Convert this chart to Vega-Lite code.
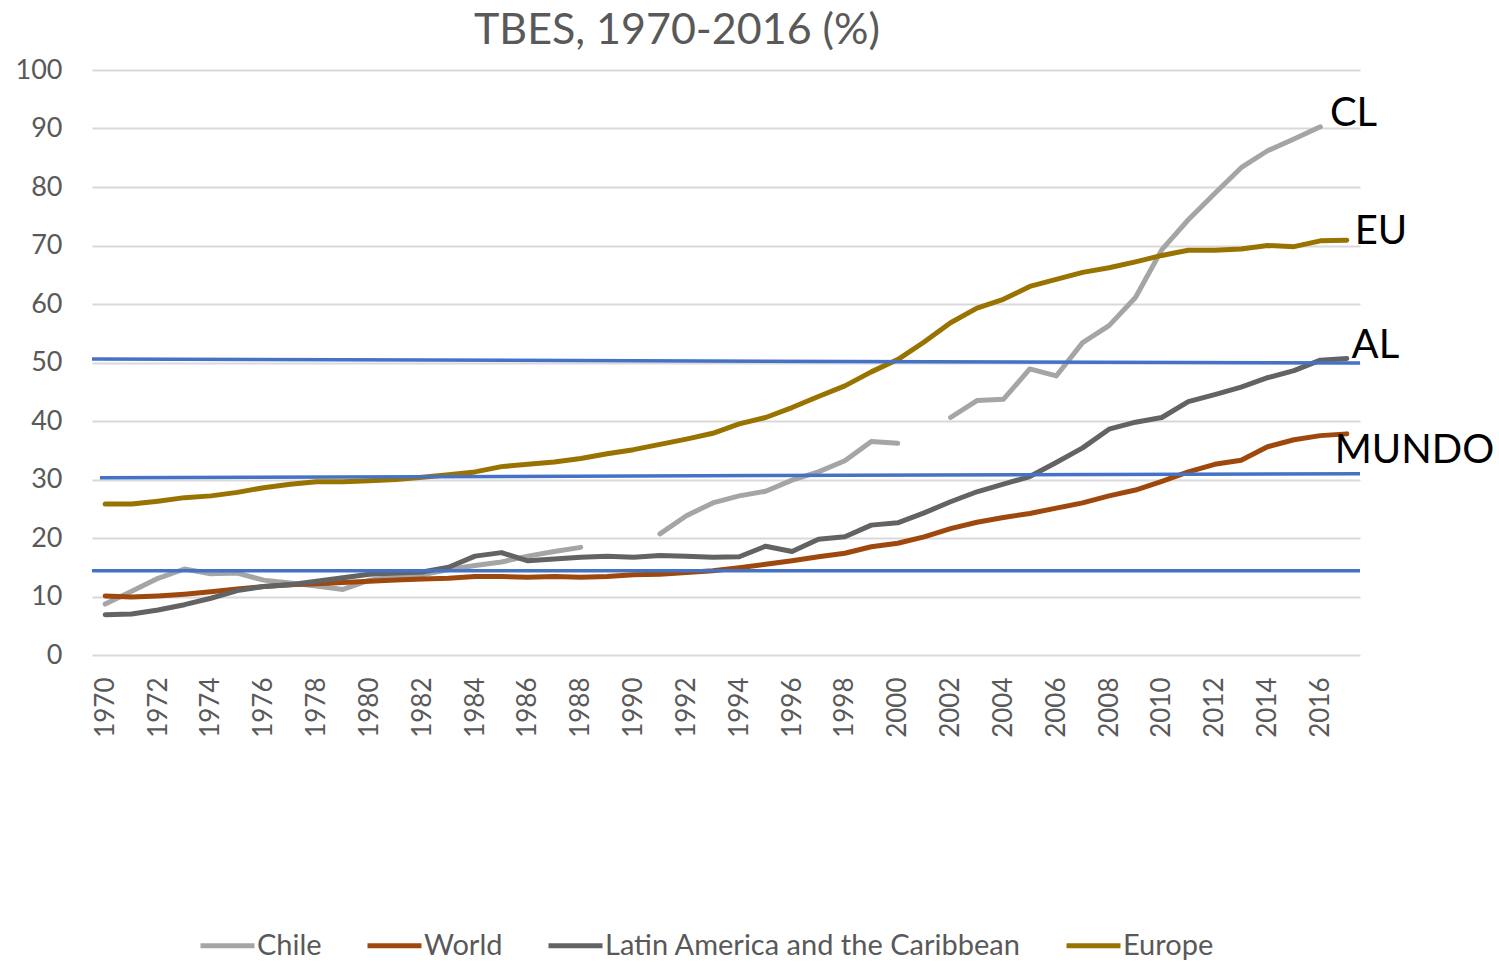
{
  "$schema": "https://vega.github.io/schema/vega-lite/v6.json",
  "width": 1268,
  "height": 585,
  "autosize": {"type": "none"},
  "padding": {"left": 92, "top": 70, "right": 139, "bottom": 310},
  "background": "white",
  "title": {
    "text": "TBES, 1970-2016 (%)",
    "font": "Lato",
    "fontSize": 43,
    "fontWeight": "normal",
    "color": "#595959",
    "anchor": "middle",
    "frame": "group",
    "dx": -49,
    "offset": 3
  },
  "datasets": {
    "series": [
      {"year":1970,"series":"Chile","value":8.7},{"year":1971,"series":"Chile","value":10.9},{"year":1972,"series":"Chile","value":13.1},{"year":1973,"series":"Chile","value":14.7},{"year":1974,"series":"Chile","value":13.9},{"year":1975,"series":"Chile","value":14.0},{"year":1976,"series":"Chile","value":12.8},{"year":1977,"series":"Chile","value":12.3},{"year":1978,"series":"Chile","value":11.8},{"year":1979,"series":"Chile","value":11.2},{"year":1980,"series":"Chile","value":12.8},{"year":1981,"series":"Chile","value":13.4},{"year":1982,"series":"Chile","value":13.7},{"year":1983,"series":"Chile","value":14.6},{"year":1984,"series":"Chile","value":15.3},{"year":1985,"series":"Chile","value":15.9},{"year":1986,"series":"Chile","value":16.9},{"year":1987,"series":"Chile","value":17.7},{"year":1988,"series":"Chile","value":18.4},{"year":1989,"series":"Chile","value":null},{"year":1990,"series":"Chile","value":null},{"year":1991,"series":"Chile","value":20.7},{"year":1992,"series":"Chile","value":23.8},{"year":1993,"series":"Chile","value":26.0},{"year":1994,"series":"Chile","value":27.2},{"year":1995,"series":"Chile","value":28.0},{"year":1996,"series":"Chile","value":29.9},{"year":1997,"series":"Chile","value":31.3},{"year":1998,"series":"Chile","value":33.2},{"year":1999,"series":"Chile","value":36.5},{"year":2000,"series":"Chile","value":36.2},{"year":2001,"series":"Chile","value":null},{"year":2002,"series":"Chile","value":40.6},{"year":2003,"series":"Chile","value":43.5},{"year":2004,"series":"Chile","value":43.7},{"year":2005,"series":"Chile","value":48.9},{"year":2006,"series":"Chile","value":47.7},{"year":2007,"series":"Chile","value":53.4},{"year":2008,"series":"Chile","value":56.3},{"year":2009,"series":"Chile","value":61.1},{"year":2010,"series":"Chile","value":69.3},{"year":2011,"series":"Chile","value":74.4},{"year":2012,"series":"Chile","value":78.9},{"year":2013,"series":"Chile","value":83.3},{"year":2014,"series":"Chile","value":86.2},{"year":2015,"series":"Chile","value":88.2},{"year":2016,"series":"Chile","value":90.3},
      {"year":1970,"series":"World","value":10.1},{"year":1971,"series":"World","value":9.9},{"year":1972,"series":"World","value":10.1},{"year":1973,"series":"World","value":10.4},{"year":1974,"series":"World","value":10.8},{"year":1975,"series":"World","value":11.3},{"year":1976,"series":"World","value":11.7},{"year":1977,"series":"World","value":12.0},{"year":1978,"series":"World","value":12.2},{"year":1979,"series":"World","value":12.4},{"year":1980,"series":"World","value":12.6},{"year":1981,"series":"World","value":12.8},{"year":1982,"series":"World","value":13.0},{"year":1983,"series":"World","value":13.1},{"year":1984,"series":"World","value":13.4},{"year":1985,"series":"World","value":13.4},{"year":1986,"series":"World","value":13.3},{"year":1987,"series":"World","value":13.4},{"year":1988,"series":"World","value":13.3},{"year":1989,"series":"World","value":13.4},{"year":1990,"series":"World","value":13.7},{"year":1991,"series":"World","value":13.8},{"year":1992,"series":"World","value":14.1},{"year":1993,"series":"World","value":14.4},{"year":1994,"series":"World","value":14.9},{"year":1995,"series":"World","value":15.5},{"year":1996,"series":"World","value":16.1},{"year":1997,"series":"World","value":16.8},{"year":1998,"series":"World","value":17.4},{"year":1999,"series":"World","value":18.5},{"year":2000,"series":"World","value":19.1},{"year":2001,"series":"World","value":20.2},{"year":2002,"series":"World","value":21.6},{"year":2003,"series":"World","value":22.7},{"year":2004,"series":"World","value":23.5},{"year":2005,"series":"World","value":24.2},{"year":2006,"series":"World","value":25.1},{"year":2007,"series":"World","value":26.0},{"year":2008,"series":"World","value":27.2},{"year":2009,"series":"World","value":28.2},{"year":2010,"series":"World","value":29.7},{"year":2011,"series":"World","value":31.3},{"year":2012,"series":"World","value":32.6},{"year":2013,"series":"World","value":33.3},{"year":2014,"series":"World","value":35.6},{"year":2015,"series":"World","value":36.8},{"year":2016,"series":"World","value":37.5},{"year":2017,"series":"World","value":37.8},
      {"year":1970,"series":"Latin America and the Caribbean","value":6.9},{"year":1971,"series":"Latin America and the Caribbean","value":7.0},{"year":1972,"series":"Latin America and the Caribbean","value":7.7},{"year":1973,"series":"Latin America and the Caribbean","value":8.6},{"year":1974,"series":"Latin America and the Caribbean","value":9.7},{"year":1975,"series":"Latin America and the Caribbean","value":11.0},{"year":1976,"series":"Latin America and the Caribbean","value":11.7},{"year":1977,"series":"Latin America and the Caribbean","value":12.0},{"year":1978,"series":"Latin America and the Caribbean","value":12.6},{"year":1979,"series":"Latin America and the Caribbean","value":13.2},{"year":1980,"series":"Latin America and the Caribbean","value":13.8},{"year":1981,"series":"Latin America and the Caribbean","value":14.0},{"year":1982,"series":"Latin America and the Caribbean","value":14.2},{"year":1983,"series":"Latin America and the Caribbean","value":15.0},{"year":1984,"series":"Latin America and the Caribbean","value":16.9},{"year":1985,"series":"Latin America and the Caribbean","value":17.5},{"year":1986,"series":"Latin America and the Caribbean","value":16.1},{"year":1987,"series":"Latin America and the Caribbean","value":16.4},{"year":1988,"series":"Latin America and the Caribbean","value":16.7},{"year":1989,"series":"Latin America and the Caribbean","value":16.9},{"year":1990,"series":"Latin America and the Caribbean","value":16.7},{"year":1991,"series":"Latin America and the Caribbean","value":17.0},{"year":1992,"series":"Latin America and the Caribbean","value":16.9},{"year":1993,"series":"Latin America and the Caribbean","value":16.7},{"year":1994,"series":"Latin America and the Caribbean","value":16.8},{"year":1995,"series":"Latin America and the Caribbean","value":18.6},{"year":1996,"series":"Latin America and the Caribbean","value":17.7},{"year":1997,"series":"Latin America and the Caribbean","value":19.8},{"year":1998,"series":"Latin America and the Caribbean","value":20.2},{"year":1999,"series":"Latin America and the Caribbean","value":22.2},{"year":2000,"series":"Latin America and the Caribbean","value":22.6},{"year":2001,"series":"Latin America and the Caribbean","value":24.3},{"year":2002,"series":"Latin America and the Caribbean","value":26.2},{"year":2003,"series":"Latin America and the Caribbean","value":27.9},{"year":2004,"series":"Latin America and the Caribbean","value":29.2},{"year":2005,"series":"Latin America and the Caribbean","value":30.5},{"year":2006,"series":"Latin America and the Caribbean","value":32.9},{"year":2007,"series":"Latin America and the Caribbean","value":35.4},{"year":2008,"series":"Latin America and the Caribbean","value":38.6},{"year":2009,"series":"Latin America and the Caribbean","value":39.8},{"year":2010,"series":"Latin America and the Caribbean","value":40.6},{"year":2011,"series":"Latin America and the Caribbean","value":43.3},{"year":2012,"series":"Latin America and the Caribbean","value":44.5},{"year":2013,"series":"Latin America and the Caribbean","value":45.8},{"year":2014,"series":"Latin America and the Caribbean","value":47.4},{"year":2015,"series":"Latin America and the Caribbean","value":48.6},{"year":2016,"series":"Latin America and the Caribbean","value":50.4},{"year":2017,"series":"Latin America and the Caribbean","value":50.7},
      {"year":1970,"series":"Europe","value":25.8},{"year":1971,"series":"Europe","value":25.8},{"year":1972,"series":"Europe","value":26.3},{"year":1973,"series":"Europe","value":26.9},{"year":1974,"series":"Europe","value":27.2},{"year":1975,"series":"Europe","value":27.8},{"year":1976,"series":"Europe","value":28.6},{"year":1977,"series":"Europe","value":29.2},{"year":1978,"series":"Europe","value":29.6},{"year":1979,"series":"Europe","value":29.6},{"year":1980,"series":"Europe","value":29.8},{"year":1981,"series":"Europe","value":30.0},{"year":1982,"series":"Europe","value":30.4},{"year":1983,"series":"Europe","value":30.8},{"year":1984,"series":"Europe","value":31.3},{"year":1985,"series":"Europe","value":32.2},{"year":1986,"series":"Europe","value":32.6},{"year":1987,"series":"Europe","value":33.0},{"year":1988,"series":"Europe","value":33.6},{"year":1989,"series":"Europe","value":34.4},{"year":1990,"series":"Europe","value":35.1},{"year":1991,"series":"Europe","value":36.0},{"year":1992,"series":"Europe","value":36.9},{"year":1993,"series":"Europe","value":37.9},{"year":1994,"series":"Europe","value":39.5},{"year":1995,"series":"Europe","value":40.6},{"year":1996,"series":"Europe","value":42.3},{"year":1997,"series":"Europe","value":44.2},{"year":1998,"series":"Europe","value":46.0},{"year":1999,"series":"Europe","value":48.4},{"year":2000,"series":"Europe","value":50.5},{"year":2001,"series":"Europe","value":53.5},{"year":2002,"series":"Europe","value":56.8},{"year":2003,"series":"Europe","value":59.3},{"year":2004,"series":"Europe","value":60.8},{"year":2005,"series":"Europe","value":63.0},{"year":2006,"series":"Europe","value":64.2},{"year":2007,"series":"Europe","value":65.4},{"year":2008,"series":"Europe","value":66.2},{"year":2009,"series":"Europe","value":67.2},{"year":2010,"series":"Europe","value":68.3},{"year":2011,"series":"Europe","value":69.2},{"year":2012,"series":"Europe","value":69.2},{"year":2013,"series":"Europe","value":69.4},{"year":2014,"series":"Europe","value":70.0},{"year":2015,"series":"Europe","value":69.8},{"year":2016,"series":"Europe","value":70.8},{"year":2017,"series":"Europe","value":70.9}
    ],
    "refs": [
      {"x": 1969.5, "x2": 2017.5, "y": 50.6, "y2": 49.9},
      {"x": 1969.8, "x2": 2017.5, "y": 30.3, "y2": 31.0},
      {"x": 1969.5, "x2": 2017.5, "y": 14.4, "y2": 14.4}
    ],
    "labels": [
      {"label": "CL", "x": 2016.36, "y": 90.5},
      {"label": "EU", "x": 2017.3, "y": 70.2},
      {"label": "AL", "x": 2017.18, "y": 50.7},
      {"label": "MUNDO", "x": 2016.54, "y": 32.9}
    ]
  },
  "layer": [
    {
      "data": {"name": "series"},
      "mark": {"type": "line", "strokeWidth": 5, "strokeCap": "round", "strokeJoin": "round", "invalid": "break-paths-show-domains"},
      "encoding": {
        "x": {
          "field": "year", "type": "quantitative",
          "scale": {"domain": [1969.5, 2017.5], "nice": false, "zero": false},
          "axis": {
            "title": null, "grid": false, "domain": false, "ticks": false,
            "values": [1970,1972,1974,1976,1978,1980,1982,1984,1986,1988,1990,1992,1994,1996,1998,2000,2002,2004,2006,2008,2010,2012,2014,2016],
            "format": "d", "labelAngle": -90, "labelPadding": 22, "labelOverlap": false,
            "labelFont": "Lato", "labelFontSize": 26, "labelColor": "#595959"
          }
        },
        "y": {
          "field": "value", "type": "quantitative",
          "scale": {"domain": [0, 100], "nice": false},
          "axis": {
            "title": null, "domain": false, "ticks": false,
            "values": [0,10,20,30,40,50,60,70,80,90,100],
            "labelPadding": 30, "labelFont": "Lato", "labelFontSize": 27, "labelColor": "#595959",
            "gridColor": "#D9D9D9", "gridWidth": 2
          }
        },
        "color": {
          "field": "series", "type": "nominal",
          "scale": {
            "domain": ["Chile", "World", "Latin America and the Caribbean", "Europe"],
            "range": ["#A5A5A5", "#9E480E", "#636363", "#997300"]
          },
          "legend": {
            "title": null, "orient": "none", "direction": "horizontal",
            "legendX": 106, "legendY": 846,
            "symbolType": "stroke", "symbolStrokeWidth": 5, "symbolSize": 2916,
            "labelFont": "Lato", "labelFontSize": 29, "labelColor": "#595959",
            "labelOffset": 0, "columnPadding": 35, "labelLimit": 1000
          }
        }
      }
    },
    {
      "data": {"name": "refs"},
      "mark": {"type": "rule", "color": "#4472C4", "strokeWidth": 3.5},
      "encoding": {
        "x": {"field": "x", "type": "quantitative"},
        "x2": {"field": "x2"},
        "y": {"field": "y", "type": "quantitative"},
        "y2": {"field": "y2"}
      }
    },
    {
      "data": {"name": "labels"},
      "mark": {"type": "text", "align": "left", "baseline": "alphabetic", "font": "Lato", "fontSize": 40, "color": "black"},
      "encoding": {
        "x": {"field": "x", "type": "quantitative"},
        "y": {"field": "y", "type": "quantitative"},
        "text": {"field": "label"}
      }
    }
  ],
  "config": {
    "view": {"stroke": null}
  }
}
